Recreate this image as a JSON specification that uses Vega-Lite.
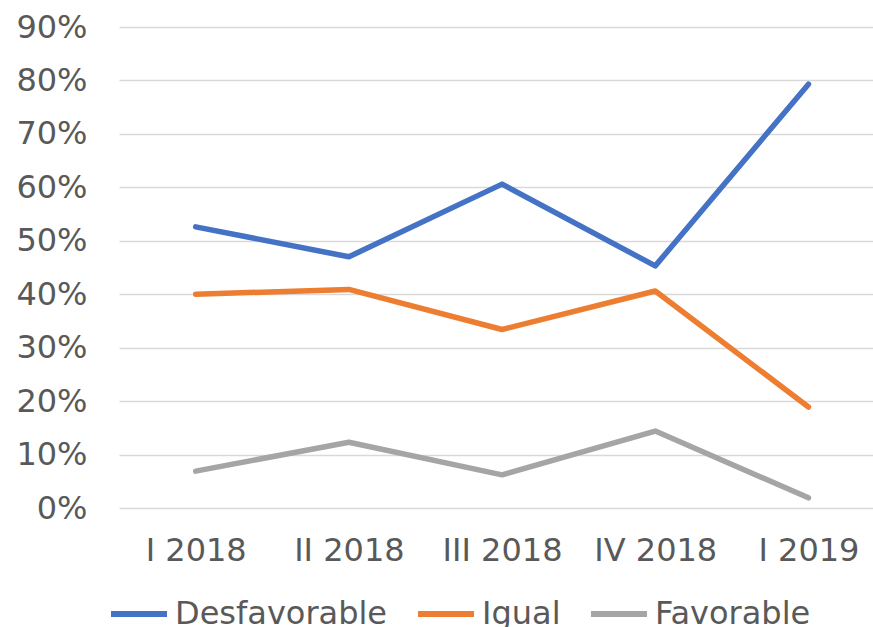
{
  "$schema": "https://vega.github.io/schema/vega-lite/v6.json",
  "autosize": "none",
  "width": 754,
  "height": 481,
  "padding": {"left": 119, "top": 27, "right": 0, "bottom": 119},
  "background": "white",
  "config": {
    "view": {"stroke": null},
    "font": "DejaVu Sans"
  },
  "data": {
    "values": [
      {"periodo": "I 2018", "serie": "Desfavorable", "valor": 0.526},
      {"periodo": "II 2018", "serie": "Desfavorable", "valor": 0.470},
      {"periodo": "III 2018", "serie": "Desfavorable", "valor": 0.606},
      {"periodo": "IV 2018", "serie": "Desfavorable", "valor": 0.453},
      {"periodo": "I 2019", "serie": "Desfavorable", "valor": 0.793},
      {"periodo": "I 2018", "serie": "Igual", "valor": 0.400},
      {"periodo": "II 2018", "serie": "Igual", "valor": 0.409},
      {"periodo": "III 2018", "serie": "Igual", "valor": 0.334},
      {"periodo": "IV 2018", "serie": "Igual", "valor": 0.406},
      {"periodo": "I 2019", "serie": "Igual", "valor": 0.189},
      {"periodo": "I 2018", "serie": "Favorable", "valor": 0.069},
      {"periodo": "II 2018", "serie": "Favorable", "valor": 0.123},
      {"periodo": "III 2018", "serie": "Favorable", "valor": 0.062},
      {"periodo": "IV 2018", "serie": "Favorable", "valor": 0.144},
      {"periodo": "I 2019", "serie": "Favorable", "valor": 0.019}
    ]
  },
  "mark": {"type": "line", "strokeWidth": 5.5, "strokeCap": "round", "strokeJoin": "round"},
  "encoding": {
    "x": {
      "field": "periodo",
      "type": "ordinal",
      "sort": ["I 2018", "II 2018", "III 2018", "IV 2018", "I 2019"],
      "scale": {"type": "point", "padding": 0.461, "align": 0.543},
      "axis": {
        "title": null,
        "domain": false,
        "ticks": false,
        "grid": false,
        "labelAngle": 0,
        "labelFontSize": 32,
        "labelColor": "#595959",
        "labelPadding": 27
      }
    },
    "y": {
      "field": "valor",
      "type": "quantitative",
      "scale": {"domain": [0, 0.9], "nice": false},
      "axis": {
        "title": null,
        "domain": false,
        "ticks": false,
        "values": [0, 0.1, 0.2, 0.3, 0.4, 0.5, 0.6, 0.7, 0.8, 0.9],
        "format": ".0%",
        "labelFontSize": 32,
        "labelColor": "#595959",
        "labelPadding": 32,
        "gridColor": "#D9D9D9",
        "gridWidth": 1.3
      }
    },
    "color": {
      "field": "serie",
      "type": "nominal",
      "sort": ["Desfavorable", "Igual", "Favorable"],
      "scale": {
        "domain": ["Desfavorable", "Igual", "Favorable"],
        "range": ["#4472C4", "#ED7D31", "#A5A5A5"]
      },
      "legend": {
        "title": null,
        "orient": "none",
        "direction": "horizontal",
        "legendX": -11,
        "legendY": 556,
        "padding": 0,
        "symbolType": "stroke",
        "symbolSize": 3136,
        "symbolStrokeWidth": 6,
        "labelFontSize": 32,
        "labelColor": "#595959",
        "labelOffset": 5,
        "columnPadding": 18,
        "labelLimit": 400
      }
    }
  }
}
